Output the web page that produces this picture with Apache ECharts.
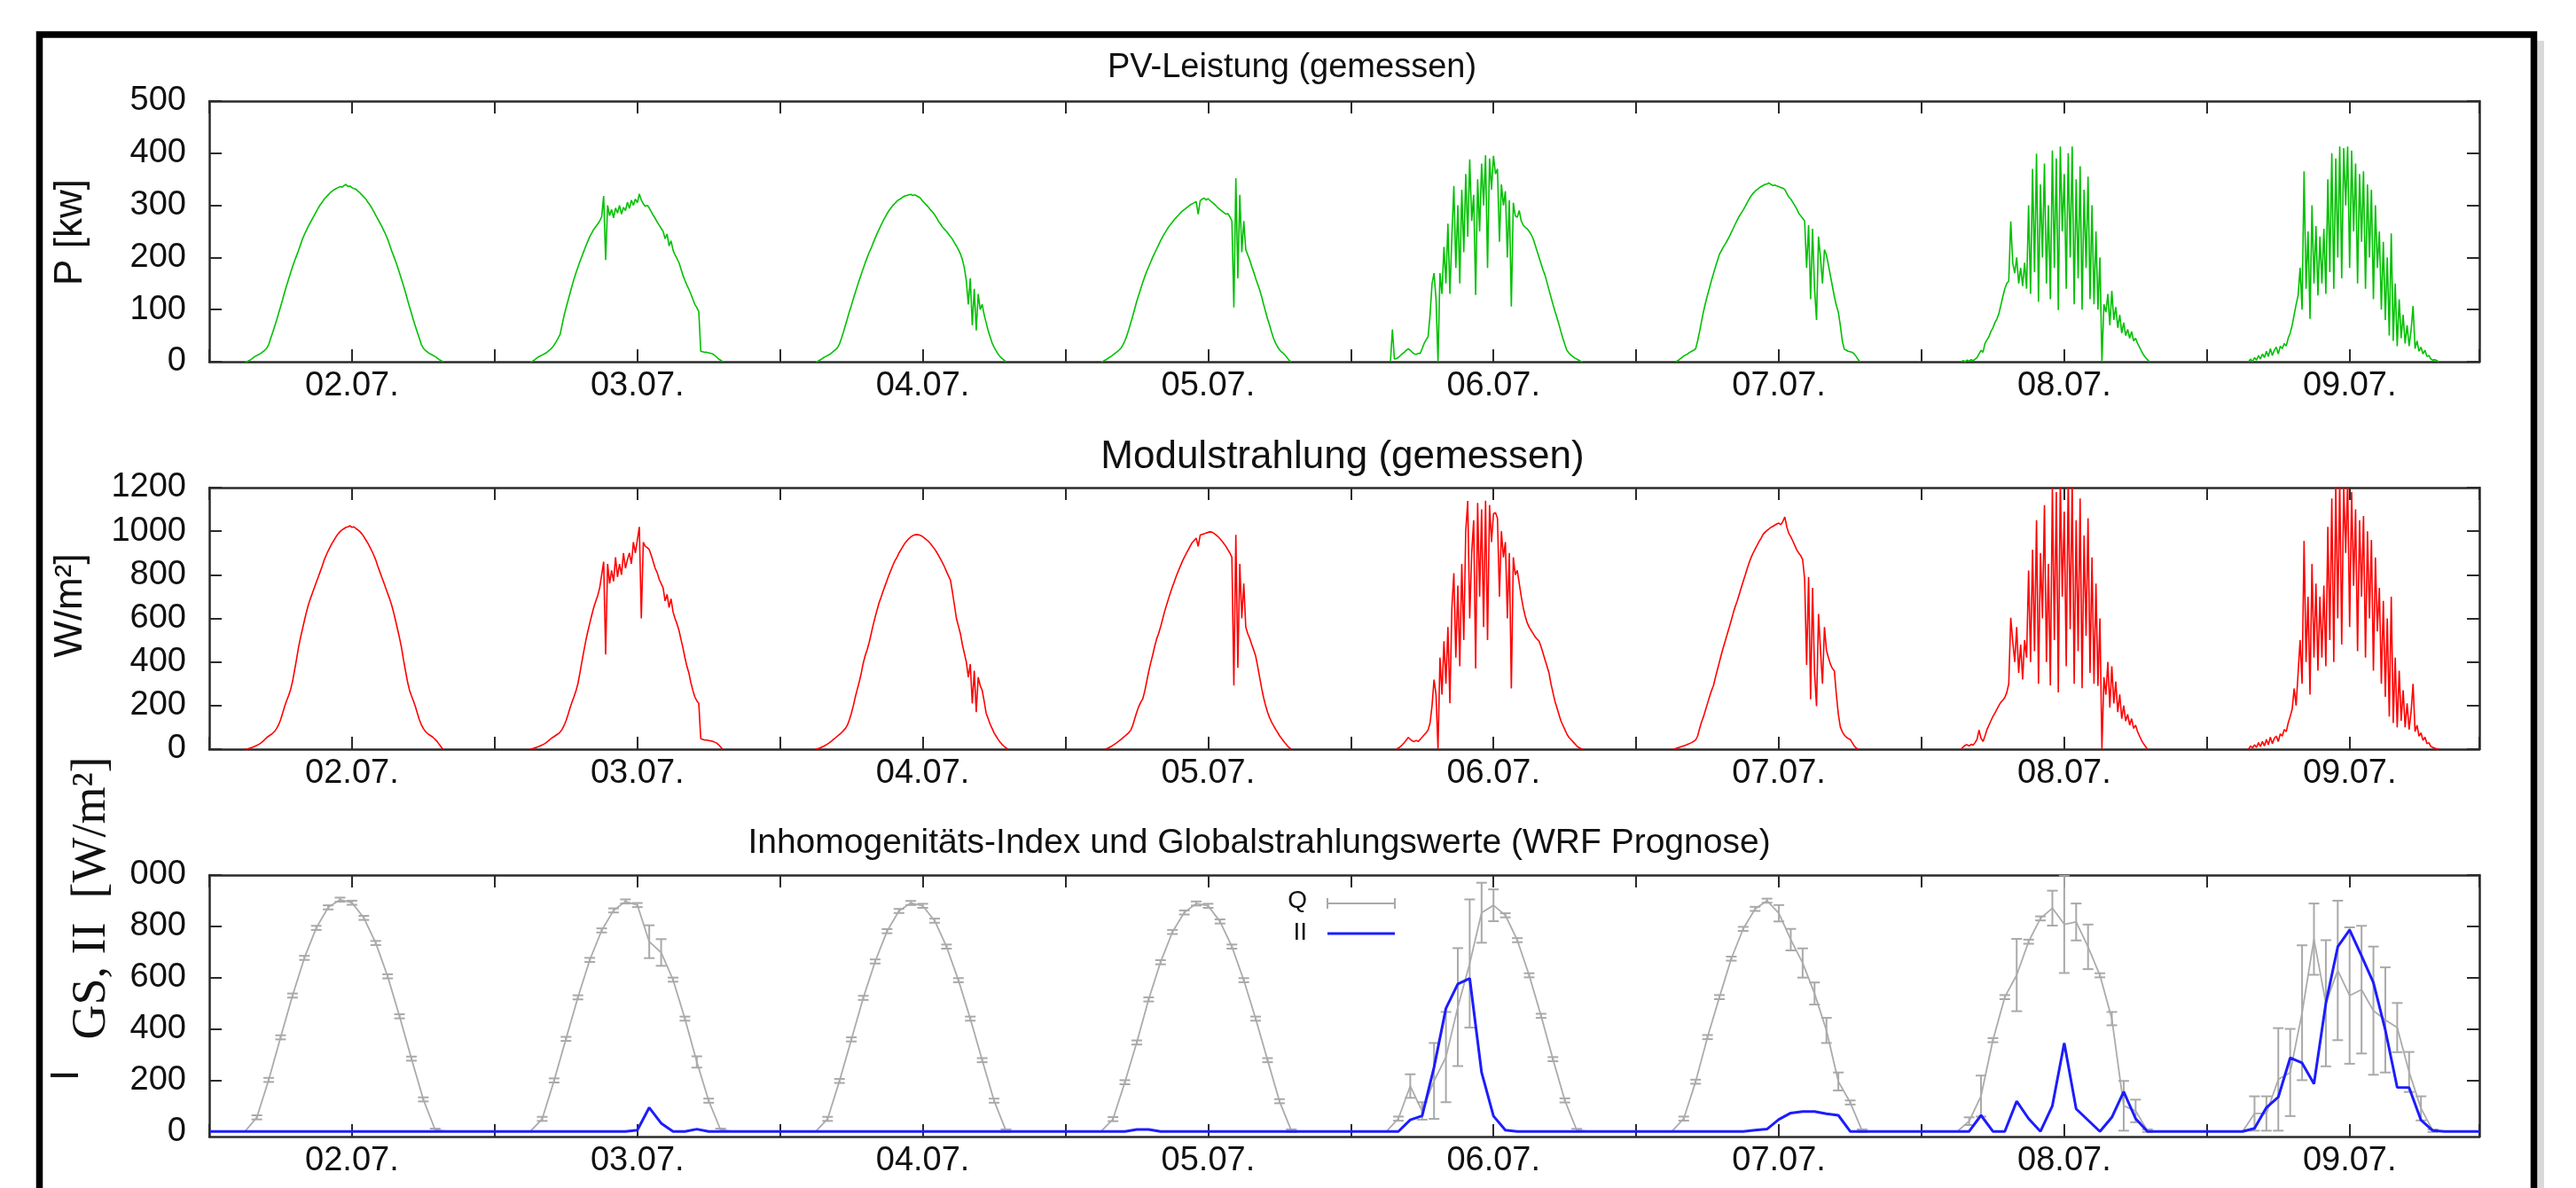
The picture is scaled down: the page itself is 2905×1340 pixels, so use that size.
<!DOCTYPE html>
<html><head><meta charset="utf-8">
<script src="https://cdn.jsdelivr.net/npm/echarts@6/dist/echarts.min.js"></script>
<style>html,body{margin:0;padding:0;background:#fff}#c{width:2905px;height:1340px}</style>
</head><body><div id="c"></div><script>
// ---------- DATA ----------
const dayLabels = ['02.07.','03.07.','04.07.','05.07.','06.07.','07.07.','08.07.','09.07.'];
const dayNums = [2,3,4,5,6,7,8,9];
const pTicks = [0,100,200,300,400,500];
const gTicks = [0,200,400,600,800,1000,1200];
const qTicks = [0,200,400,600,800,1000];
// measured series: 10-minute values starting 03:00 UTC
const measStartHour = 3, measStepMin = 10;
const pv02 = [0,0,2,4,7,10,12,14,16,19, 22,26,33,45,56,68,80,93,106,119, 133,146,158,170,182,193,203,213,224,235, 244,252,260,267,274,281,288,295,301,306, 312,316,320,324,327,330,332,334,336,335, 338,340,336,337,334,332,331,327,324,320, 316,312,306,301,295,288,281,274,267,260, 252,244,235,224,213,203,193,182,170,158, 146,133,119,106,93,80,68,56,45,33, 26,22,19,16,14,12,10,7,4,2,0];
const pv03 = [0,1,3,6,9,11,13,15,17,20, 23,27,32,38,45,52,70,88,103,117, 131,145,158,170,181,192,202,212,222,231, 240,247,254,259,264,270,278,318,195,300, 280,292,276,295,285,300,283,296,290,306, 294,310,300,312,305,322,310,303,298,300, 295,288,281,275,268,262,256,250,236,245, 222,232,214,205,198,190,178,166,156,147, 139,130,120,110,104,96,20,19,18,18, 17,16,15,12,9,5,3,0];
const pv04 = [0,1,3,5,8,10,12,14,17,20, 23,27,34,45,57,70,83,96,108,121, 133,145,157,168,179,190,200,210,218,228, 237,246,254,262,270,277,284,290,295,300, 304,308,311,313,316,318,319,320,321,319, 320,318,316,313,308,304,300,296,291,287, 282,276,269,264,258,254,250,245,240,235, 228,222,215,207,196,180,155,110,160,70, 140,60,130,100,110,90,75,60,48,36, 28,21,15,10,6,3,0];
const pv05 = [0,1,3,5,8,10,13,16,19,22, 26,32,40,50,62,75,88,102,116,128, 140,152,163,173,182,191,200,208,216,224, 232,239,246,252,258,263,268,273,277,281, 285,289,292,295,298,301,303,305,307,283, 309,312,314,310,313,309,306,303,299,295, 292,289,286,283,284,278,270,104,352,160, 320,210,270,215,205,195,183,172,160,149, 138,125,110,96,82,70,57,45,36,29, 23,19,16,12,7,2,0];
const pv06 = [null,null,0,62,5,6,8,12,15,18, 22,25,22,18,15,14,16,16,25,35, 42,48,90,150,170,120,0,170,130,220, 150,265,130,240,337,180,300,150,330,210, 360,240,388,270,320,128,350,250,380,300, 396,180,390,330,395,360,370,230,340,300, 327,200,310,106,305,280,277,290,270,262, 258,255,250,244,236,224,212,200,188,176, 166,152,138,124,110,97,85,72,58,45, 33,22,17,13,10,7,5,3,1,0];
const pv07 = [null,null,0,2,5,8,11,13,15,18, 20,22,25,40,58,78,97,113,128,142, 156,169,182,194,206,213,220,226,233,240, 248,256,264,272,279,285,291,298,305,312, 318,323,327,330,333,336,338,340,341,343, 340,338,339,337,336,334,333,330,323,316, 312,306,300,293,285,280,275,270,180,262, 120,255,140,80,240,200,150,215,205,185, 165,145,125,108,95,70,40,24,22,20, 19,18,15,10,4,0];
const pv08 = [null,null,0,2,0,3,1,4,2,5, 8,15,22,18,35,42,48,58,65,75, 82,92,108,125,140,150,155,269,190,170, 200,150,180,145,190,140,300,130,370,172, 399,115,340,200,380,150,300,120,405,180, 390,99,413,250,360,140,400,200,413,110, 350,160,375,100,330,180,355,120,300,110, 250,100,200,0,110,95,130,70,136,80, 105,65,90,55,75,50,62,45,58,40, 45,35,28,20,13,8,4,0];
const pv09 = [null,null,null,0,5,0,8,3,12,5, 15,8,20,10,25,12,22,28,15,30, 25,35,30,45,55,70,90,110,127,180, 100,365,140,250,82,300,150,260,127,240, 150,255,130,350,172,400,140,390,200,413, 160,410,300,413,180,405,250,380,150,360, 230,365,140,340,200,330,120,300,180,250, 100,230,80,200,50,246,40,150,30,120, 45,90,35,70,30,60,107,25,40,20, 28,15,22,10,12,5,3,4,2,0];

const mod02 = [0,0,3,6,9,13,17,22,28,35, 44,53,60,66,73,82,95,112,135,165, 195,222,245,272,310,360,410,465,510,550, 590,628,662,690,715,740,766,790,815,840, 868,890,910,928,945,960,975,988,998,1006, 1012,1018,1020,1025,1018,1020,1012,1006,998,988, 975,960,945,928,910,890,868,840,815,790, 766,740,715,690,662,628,590,550,510,465, 410,360,310,272,245,222,195,165,135,112, 95,82,73,66,60,53,44,35,22,10,0];
const mod03 = [0,2,5,8,11,15,19,24,30,37, 45,52,58,64,70,78,90,108,130,158, 188,215,240,266,300,348,400,450,498,540, 578,615,650,678,705,740,800,860,434,850, 760,820,770,880,790,850,800,900,830,870, 900,850,950,900,960,1020,600,950,930,925, 915,890,860,830,810,780,760,740,680,710, 650,690,630,600,575,545,505,465,420,380, 350,305,270,240,222,210,48,45,42,42, 40,38,36,32,28,20,10,0];
const mod04 = [0,2,5,9,13,18,24,30,37,45, 52,60,68,76,85,95,110,135,165,200, 240,275,310,350,395,430,458,490,530,570, 606,640,672,698,725,750,775,800,822,845, 865,880,900,915,930,945,956,966,974,980, 983,985,983,980,975,968,960,952,942,930, 918,904,888,872,855,836,815,795,775,720, 660,600,565,530,480,440,400,330,390,210, 360,170,330,292,270,220,165,140,115,95, 75,60,45,33,22,13,6,0];
const mod05 = [null,null,0,3,7,12,18,24,30,37, 44,52,60,68,76,88,110,140,170,195, 215,230,265,310,355,395,430,470,505,530, 560,595,630,660,690,718,745,770,795,818, 840,862,880,898,915,932,948,958,968,930, 982,985,988,992,995,997,995,990,983,975, 965,955,943,930,915,900,880,292,983,373, 850,600,760,560,530,508,480,455,427,380, 330,280,237,200,170,145,125,108,92,78, 62,50,38,26,15,6,0];
const mod06 = [null,null,null,null,null,0,5,12,20,30, 42,54,45,38,35,40,35,45,55,65, 75,88,120,200,319,250,0,420,250,495, 300,560,211,650,807,420,750,380,850,500, 1000,1139,600,900,1050,370,1130,700,1100,560, 1140,500,1120,950,1080,1085,1060,700,1000,880, 950,600,900,279,880,800,820,760,700,650, 610,580,560,545,530,515,505,495,470,440, 410,380,350,300,260,220,190,160,130,110, 90,70,55,45,35,25,15,8,3,0];
const mod07 = [null,0,3,6,9,12,15,18,22,26, 30,36,42,60,95,125,150,180,210,240, 268,292,330,365,400,435,468,498,530,560, 592,625,655,680,710,740,770,798,828,855, 880,900,918,935,952,968,985,995,1003,1010, 1018,1022,1028,1033,1037,1030,1045,1065,1020,990, 975,956,935,915,900,888,870,780,387,790, 229,740,350,197,620,454,300,560,454,420, 390,370,359,250,160,102,80,65,55,48, 45,30,15,5,0];
const mod08 = [null,null,0,10,18,20,15,22,18,30, 45,88,50,35,60,90,110,130,150,165, 183,200,215,225,237,260,300,603,495,400, 560,350,480,319,500,420,820,400,915,450, 1050,300,900,600,1120,400,850,292,1200,500, 1180,260,1230,700,1090,380,1240,550,1230,300, 1050,450,1150,280,980,520,1060,350,880,300, 760,290,600,0,330,250,400,190,380,210, 310,170,251,140,200,129,160,110,140,95, 110,80,60,40,25,12,0];
const mod09 = [null,null,null,0,15,5,20,8,30,12, 35,15,45,20,55,25,50,60,35,70, 60,90,80,120,150,183,278,200,350,500, 300,956,400,700,250,850,420,760,360,700, 420,750,380,1020,500,1150,400,1210,600,1230, 480,1210,900,1230,560,1180,750,1100,450,1050, 700,1070,420,1000,600,960,360,880,540,740, 300,680,240,600,150,700,120,420,100,360, 130,270,100,210,90,170,300,80,110,60, 75,40,55,25,30,12,8,4,2,0];

// forecast series: hourly values 03:00 ... 20:00 UTC
const hourStart = 3;
const q02 = [0,55,201,367,530,677,794,874,904,892,833,735,605,449,284,125,6,0];
const q03 = [0,49,199,361,523,669,784,862,897,883,740,698,592,440,271,120,6,0];
const q04 = [0,49,197,359,521,663,781,860,891,880,822,721,590,440,278,120,3,0];
const q05 = [0,48,192,347,515,660,778,854,889,880,819,721,590,440,278,118,3,0];
const q06 = [0,50,177,80,197,290,485,655,853,882,843,746,609,451,282,121,5,0];
const q07 = [0,50,194,368,524,674,790,868,900,851,748,657,538,394,195,113,3,0];
const q08 = [0,40,138,356,524,610,740,831,871,808,817,720,609,440,100,80,3,0];
const q09 = [0,70,70,203,230,463,750,500,628,530,553,471,435,405,232,90,3,0];
const qe02 = [0,8,8,8,8,8,8,8,8,8,8,8,8,8,8,8,5,0];
const qe03 = [0,8,8,8,8,8,8,8,8,8,64,52,8,8,22,8,5,0];
const qe04 = [0,8,8,8,8,8,8,8,8,8,8,8,8,8,8,8,5,0];
const qe05 = [0,8,8,8,8,8,8,8,8,8,8,8,8,8,8,8,5,0];
const qe06 = [0,8,46,34,148,176,230,250,117,62,8,8,8,8,8,8,5,0];
const qe07 = [0,8,8,8,8,8,8,8,8,32,42,57,43,49,35,8,5,0];
const qe08 = [0,15,80,8,8,141,8,8,68,190,72,87,8,26,97,44,5,0];
const qe09 = [0,67,67,200,170,263,139,246,272,266,249,250,205,96,78,47,5,0];
const ii02 = [0,0,0,0,0,0,0,0,0,0,0,0,0,0,0,0,0,0];
const ii03 = [0,0,0,0,0,0,0,0,0,5,93,32,0,0,9,0,0,0];
const ii04 = [0,0,0,0,0,0,0,0,0,0,0,0,0,0,0,0,0,0];
const ii05 = [0,0,0,8,8,0,0,0,0,0,0,0,0,0,0,0,0,0];
const ii06 = [0,0,45,61,250,480,575,597,230,60,5,0,0,0,0,0,0,0];
const ii07 = [0,0,0,0,0,0,0,5,9,47,72,78,78,69,63,0,0,0];
const ii08 = [0,0,63,0,0,118,50,0,100,345,88,44,0,55,155,50,0,0];
const ii09 = [0,12,93,134,287,267,186,500,720,786,685,580,396,172,171,44,3,0];
const nightValue = 0;

// ---------- BUILD ----------
const xMin = 1.5, xMax = 9.4545;
const pvDays = [pv02,pv03,pv04,pv05,pv06,pv07,pv08,pv09];
const modDays = [mod02,mod03,mod04,mod05,mod06,mod07,mod08,mod09];
const qDays = [q02,q03,q04,q05,q06,q07,q08,q09];
const qeDays = [qe02,qe03,qe04,qe05,qe06,qe07,qe08,qe09];
const iiDays = [ii02,ii03,ii04,ii05,ii06,ii07,ii08,ii09];

function buildMeasured(days){
  const out=[];
  days.forEach((arr,k)=>{
    const d=dayNums[k];
    arr.forEach((v,i)=>{ if(v===null) return; out.push([d+(measStartHour+i*measStepMin/60-12)/24, v]); });
    out.push([d+0.5,'-']);
  });
  return out;
}
function buildHourly(days){
  const out=[[xMin,nightValue]];
  days.forEach((arr,k)=>{ arr.forEach((v,j)=>out.push([dayNums[k]+(hourStart+j-12)/24, v])); });
  out.push([xMax,nightValue]);
  return out;
}
function buildErr(){
  const out=[];
  qDays.forEach((arr,k)=>{ arr.forEach((v,j)=>{ const e=qeDays[k][j]; if(e>0) out.push([dayNums[k]+(hourStart+j-12)/24, v-e, v+e]); }); });
  return out;
}

const FONT='"Liberation Sans", Arial, sans-serif';
const axisColor='#2b2b2b';
function dayFmt(v){ const k=Math.round(v); if(Math.abs(v-k)<1e-6 && k>=2 && k<=9) return dayLabels[k-2]; return ''; }
function xPair(g){
  const base={gridIndex:g,type:'value',min:xMin,max:xMax,interval:0.5,splitLine:{show:false},
    axisLine:{show:true,onZero:false,lineStyle:{color:axisColor,width:2.5}},
    axisTick:{show:true,inside:true,length:14,lineStyle:{color:axisColor,width:2}}};
  return [Object.assign({},base,{position:'bottom',axisLabel:{show:true,fontSize:38,fontFamily:FONT,color:'#111',margin:9,formatter:dayFmt}}),
          Object.assign({},base,{position:'top',axisLabel:{show:false}})];
}
function yPair(g,min,max,ticks,fmt){
  const base={gridIndex:g,type:'value',min:min,max:max,splitLine:{show:false},
    axisLine:{show:true,onZero:false,lineStyle:{color:axisColor,width:2.5}},
    axisTick:{show:true,inside:true,length:14,customValues:ticks,lineStyle:{color:axisColor,width:2}}};
  return [Object.assign({},base,{position:'left',axisLabel:{show:true,customValues:ticks,fontSize:38,fontFamily:FONT,color:'#111',margin:26,formatter:fmt}}),
          Object.assign({},base,{position:'right',axisLabel:{show:false}})];
}

const gridL=236, gridW=2560;
const errStyle={stroke:'#a9a9a9',lineWidth:2};

const option={
  animation:false,
  backgroundColor:'#fff',
  textStyle:{fontFamily:FONT},
  grid:[
    {left:gridL,top:114,width:gridW,height:294},
    {left:gridL,top:550,width:gridW,height:295},
    {left:gridL,top:987,width:gridW,height:295}
  ],
  xAxis:[].concat(xPair(0),xPair(1),xPair(2)),
  yAxis:[].concat(
    yPair(0,0,500,pTicks,v=>String(v)),
    yPair(1,0,1200,gTicks,v=>String(v)),
    yPair(2,-20,1000,qTicks,v=>v===1000?'000':String(v))
  ),
  series:[
    {type:'line',xAxisIndex:0,yAxisIndex:0,data:buildMeasured(pvDays),showSymbol:false,connectNulls:false,
      lineStyle:{color:'#00c000',width:1.6},itemStyle:{color:'#00c000'},z:3},
    {type:'line',xAxisIndex:2,yAxisIndex:2,data:buildMeasured(modDays),showSymbol:false,connectNulls:false,
      lineStyle:{color:'#ff0000',width:1.6},itemStyle:{color:'#ff0000'},z:3},
    {type:'line',xAxisIndex:4,yAxisIndex:4,data:buildHourly(qDays),showSymbol:false,
      lineStyle:{color:'#ababab',width:1.8},itemStyle:{color:'#ababab'},z:2},
    {type:'custom',xAxisIndex:4,yAxisIndex:4,data:buildErr(),clip:true,z:2,
      renderItem:function(params,api){
        const x=api.value(0), lo=api.value(1), hi=api.value(2);
        const p1=api.coord([x,lo]), p2=api.coord([x,hi]); const cw=6;
        return {type:'group',children:[
          {type:'line',shape:{x1:p1[0],y1:p1[1],x2:p2[0],y2:p2[1]},style:errStyle},
          {type:'line',shape:{x1:p1[0]-cw,y1:p1[1],x2:p1[0]+cw,y2:p1[1]},style:errStyle},
          {type:'line',shape:{x1:p2[0]-cw,y1:p2[1],x2:p2[0]+cw,y2:p2[1]},style:errStyle}
        ]};
      }},
    {type:'line',xAxisIndex:4,yAxisIndex:4,data:buildHourly(iiDays),showSymbol:false,
      lineStyle:{color:'#1c1cff',width:3},itemStyle:{color:'#1c1cff'},z:4}
  ],
  graphic:[
    {type:'rect',shape:{x:2861,y:46,width:8,height:1320},style:{fill:'rgba(0,0,0,0.15)'},silent:true},
    {type:'rect',shape:{x:44.5,y:39,width:2813,height:1400},style:{fill:'none',stroke:'#000',lineWidth:7.5},silent:true},
    {type:'text',x:1457,y:77,style:{text:'PV-Leistung (gemessen)',fontSize:38,fontFamily:FONT,fill:'#111',align:'center',verticalAlign:'middle'}},
    {type:'text',x:1514,y:516,style:{text:'Modulstrahlung (gemessen)',fontSize:44,fontFamily:FONT,fill:'#111',align:'center',verticalAlign:'middle'}},
    {type:'text',x:1420,y:951,style:{text:'Inhomogenitäts-Index und Globalstrahlungswerte (WRF Prognose)',fontSize:39,fontFamily:FONT,fill:'#111',align:'center',verticalAlign:'middle'}},
    {type:'text',x:80,y:262,rotation:Math.PI/2,style:{text:'P [kw]',fontSize:44,fontFamily:FONT,fill:'#111',align:'center',verticalAlign:'middle'}},
    {type:'text',x:80,y:683,rotation:Math.PI/2,style:{text:'W/m²]',fontSize:44,fontFamily:FONT,fill:'#111',align:'center',verticalAlign:'middle'}},
    {type:'text',x:104,y:1013,rotation:Math.PI/2,style:{text:'GS, II  [W/m²]',fontSize:54,fontFamily:'"Liberation Serif", "DejaVu Serif", serif',fill:'#111',align:'center',verticalAlign:'middle'}},
    {type:'text',x:76,y:1213,rotation:Math.PI/2,style:{text:'I',fontSize:44,fontFamily:FONT,fill:'#111',align:'center',verticalAlign:'middle'}},
    {type:'text',x:1474,y:1016,style:{text:'Q',fontSize:28,fontFamily:FONT,fill:'#111',align:'right',verticalAlign:'middle'}},
    {type:'text',x:1474,y:1052,style:{text:'II',fontSize:28,fontFamily:FONT,fill:'#111',align:'right',verticalAlign:'middle'}},
    {type:'line',shape:{x1:1497,y1:1019,x2:1573,y2:1019},style:errStyle},
    {type:'line',shape:{x1:1497,y1:1013,x2:1497,y2:1025},style:errStyle},
    {type:'line',shape:{x1:1573,y1:1013,x2:1573,y2:1025},style:errStyle},
    {type:'line',shape:{x1:1497,y1:1053,x2:1573,y2:1053},style:{stroke:'#1c1cff',lineWidth:3}}
  ]
};
const chart=echarts.init(document.getElementById('c'),null,{renderer:'canvas',width:2905,height:1340});
chart.setOption(option);
</script></body></html>
